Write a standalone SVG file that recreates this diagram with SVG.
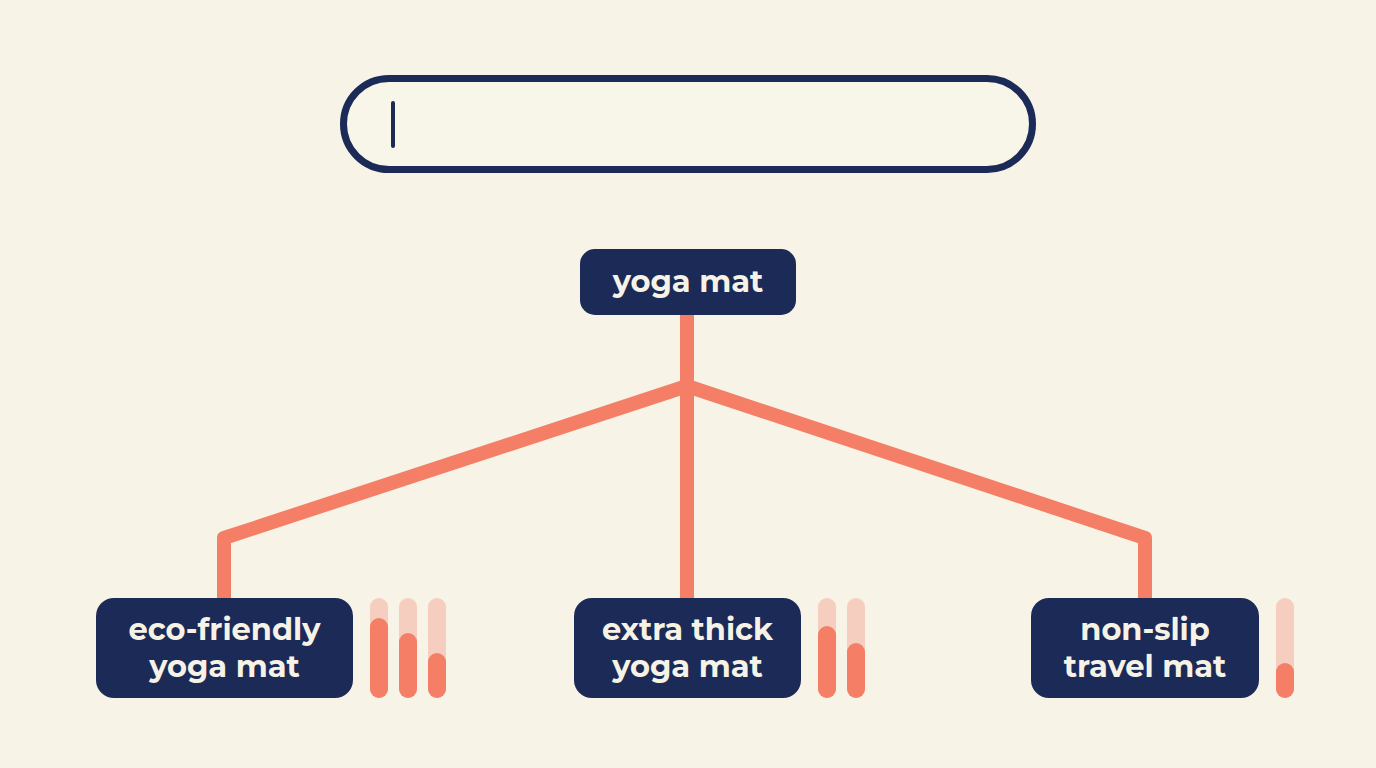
<svg xmlns="http://www.w3.org/2000/svg" width="1376" height="768" viewBox="0 0 1376 768">
<style>
.node{fill:#1B2A56}
.lbl{font-family:"Montserrat","Open Sans","Liberation Sans",sans-serif;font-weight:700;fill:#F6F2E6;text-anchor:middle}
.conn{fill:none;stroke:#F47E66;stroke-width:14;stroke-linejoin:round}
.track{fill:#F6CEBF}
.fill{fill:#F47E66}
</style>
<rect width="1376" height="768" fill="#F7F3E6"/>
<g id="searchbar">
<rect x="343.5" y="78.5" width="689" height="91" rx="45.5" fill="#F8F5E9" stroke="#1B2A56" stroke-width="7"/>
<rect x="391" y="101" width="4" height="47" rx="2" fill="#1B2A56"/>
</g>
<g id="connectors">
<polyline class="conn" points="687,315 687,600"/>
<polyline class="conn" points="687,386 224,538 224,600"/>
<polyline class="conn" points="687,386 1145,538 1145,600"/>
</g>
<g id="root">
<rect class="node" x="580" y="249" width="216" height="66" rx="15"/>
<text class="lbl" x="688" y="292" font-size="30.5">yoga mat</text>
</g>
<g id="eco">
<rect class="node" x="96" y="598" width="257" height="100" rx="18"/>
<text class="lbl" x="224.5" y="640" font-size="30.5">eco-friendly</text>
<text class="lbl" x="224.5" y="677" font-size="30.5">yoga mat</text>
</g>
<g id="eco-bars">
<rect class="track" x="370" y="598" width="18" height="100" rx="9"/>
<rect class="fill" x="370" y="618" width="18" height="80" rx="9"/>
<rect class="track" x="399" y="598" width="18" height="100" rx="9"/>
<rect class="fill" x="399" y="633" width="18" height="65" rx="9"/>
<rect class="track" x="428" y="598" width="18" height="100" rx="9"/>
<rect class="fill" x="428" y="653" width="18" height="45" rx="9"/>
</g>
<g id="thick">
<rect class="node" x="574" y="598" width="227" height="100" rx="18"/>
<text class="lbl" x="687.5" y="640" font-size="30.5">extra thick</text>
<text class="lbl" x="687.5" y="677" font-size="30.5">yoga mat</text>
</g>
<g id="thick-bars">
<rect class="track" x="818" y="598" width="18" height="100" rx="9"/>
<rect class="fill" x="818" y="626" width="18" height="72" rx="9"/>
<rect class="track" x="847" y="598" width="18" height="100" rx="9"/>
<rect class="fill" x="847" y="643" width="18" height="55" rx="9"/>
</g>
<g id="travel">
<rect class="node" x="1031" y="598" width="228" height="100" rx="18"/>
<text class="lbl" x="1145" y="640" font-size="30.5">non-slip</text>
<text class="lbl" x="1145" y="677" font-size="30.5">travel mat</text>
</g>
<g id="travel-bars">
<rect class="track" x="1276" y="598" width="18" height="100" rx="9"/>
<rect class="fill" x="1276" y="663" width="18" height="35" rx="9"/>
</g>
</svg>
